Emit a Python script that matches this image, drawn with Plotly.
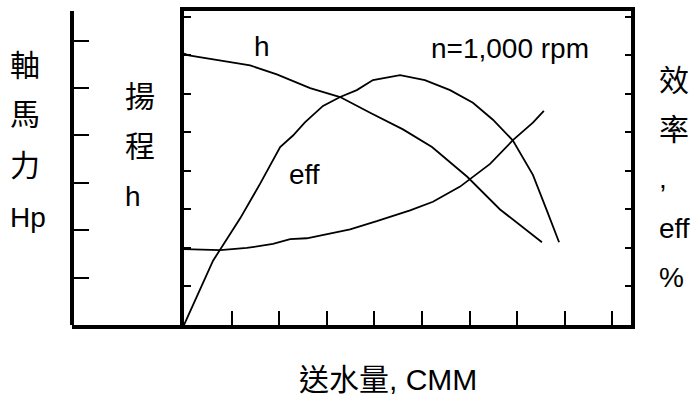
import plotly.graph_objects as go

# Pump characteristic curves at n = 1,000 rpm
# Flow (axis units) and head h
flow_head = [0.0, 0.1, 1.39, 1.95, 2.65, 3.28, 3.91, 4.60, 5.21, 5.95, 6.64, 7.52]
head = [7.05, 7.0, 6.74, 6.51, 6.15, 5.92, 5.51, 5.08, 4.62, 3.85, 3.00, 2.15]

# Flow and efficiency eff
flow_eff = [0.0, 0.61, 1.18, 1.60, 2.02, 2.29, 2.54, 2.92, 3.28, 3.63, 3.97, 4.54,
            5.06, 5.59, 6.07, 6.49, 6.91, 7.33, 7.63, 7.88]
eff = [0.0, 1.67, 2.77, 3.67, 4.62, 4.92, 5.26, 5.69, 5.92, 6.10, 6.36, 6.49,
       6.36, 6.10, 5.77, 5.33, 4.79, 3.90, 2.95, 2.15]

# Flow and shaft horsepower Hp
flow_hp = [0.0, 0.76, 1.32, 1.87, 2.23, 2.58, 3.49, 4.05, 4.75, 5.23, 5.80, 6.43,
           6.91, 7.33, 7.56]
hp = [1.60, 1.58, 1.625, 1.71, 1.81, 1.83, 2.02, 2.19, 2.42, 2.60, 2.92, 3.40,
      3.90, 4.27, 4.52]

flow_ticks = [1, 2, 3, 4, 5, 6, 7, 8, 9]
head_ticks = [1, 2, 3, 4, 5, 6, 7, 8]
hp_ticks = [1, 2, 3, 4, 5, 6]

W, H = 691, 400
L, R, T, B = 72, 60, 7, 75
PW, PH = W - L - R, H - T - B
FONT = "Liberation Sans, Arial, Noto Sans CJK TC, sans-serif"
FS = 28
FS_CJK = 30
LINE = dict(color="black", width=1.8)


def px(xp):
    return (xp - L) / PW


def py(yp):
    return (H - B - yp) / PH


inner_left = px(184)

fig = go.Figure()
fig.add_trace(go.Scatter(x=flow_head, y=head, mode="lines", line=LINE,
                         xaxis="x", yaxis="y", showlegend=False))
fig.add_trace(go.Scatter(x=flow_eff, y=eff, mode="lines", line=LINE,
                         xaxis="x", yaxis="y2", showlegend=False))
fig.add_trace(go.Scatter(x=flow_hp, y=hp, mode="lines", line=LINE,
                         xaxis="x", yaxis="y3", showlegend=False))
# carries the lower-left baseline under the Hp axis
fig.add_trace(go.Scatter(x=[], y=[], xaxis="x2", yaxis="y", showlegend=False))

axis_common = dict(showgrid=False, zeroline=False, showticklabels=False,
                   linecolor="black", tickcolor="black", tickwidth=2)

fig.update_layout(
    width=W, height=H,
    margin=dict(l=L, r=R, t=T, b=B, pad=0),
    paper_bgcolor="white", plot_bgcolor="white",
    font=dict(family=FONT, size=FS, color="black"),
    xaxis=dict(domain=[inner_left, 1], range=[0, PW * (1 - inner_left) / 47.6],
               anchor="y", showline=True, linewidth=4, mirror=True,
               ticks="inside", ticklen=14, tickvals=flow_ticks, **axis_common),
    xaxis2=dict(domain=[0, inner_left], range=[0, 1], anchor="y",
                showline=True, linewidth=4, ticks="", **axis_common),
    yaxis=dict(range=[0, PH / 39.0], anchor="x", showline=True, linewidth=4,
               ticks="inside", ticklen=7, tickvals=head_ticks, **axis_common),
    yaxis2=dict(range=[0, PH / 39.0], anchor="x", overlaying="y", side="right",
                showline=True, linewidth=4, ticks="inside", ticklen=6,
                tickvals=head_ticks, **axis_common),
    yaxis3=dict(range=[0, PH / 48.0], anchor="free", position=0, overlaying="y",
                side="left", showline=True, linewidth=3.5, ticks="inside",
                ticklen=15, tickvals=hp_ticks, **axis_common),
)


def label(text, xc, yc, xanchor="center", size=FS):
    fig.add_annotation(text=text, x=px(xc), y=py(yc), xref="paper", yref="paper",
                       xanchor=xanchor, yanchor="middle", showarrow=False,
                       font=dict(family=FONT, size=size, color="black"))


# axis titles, stacked one glyph group per line
for t, yc in zip(["軸", "馬", "力", "Hp"], [62, 112, 163, 216]):
    label(t, 8, yc, xanchor="left", size=FS_CJK if t != "Hp" else FS)
for t, yc in zip(["揚", "程", "h"], [94, 144, 195]):
    label(t, 123, yc, xanchor="left", size=FS_CJK if t != "h" else FS)
for t, yc in zip(["效", "率", ",", "eff", "%"], [77, 127, 177, 227, 277]):
    label(t, 657, yc, xanchor="left", size=FS_CJK if t in ("效", "率") else FS)

# curve labels and condition
label("h", 262, 43)
label("eff", 304, 173)
label("n=1,000 rpm", 510, 45)

# flow axis title
label("送水量, CMM", 388, 380, size=FS_CJK)

fig.write_html("out.html")
